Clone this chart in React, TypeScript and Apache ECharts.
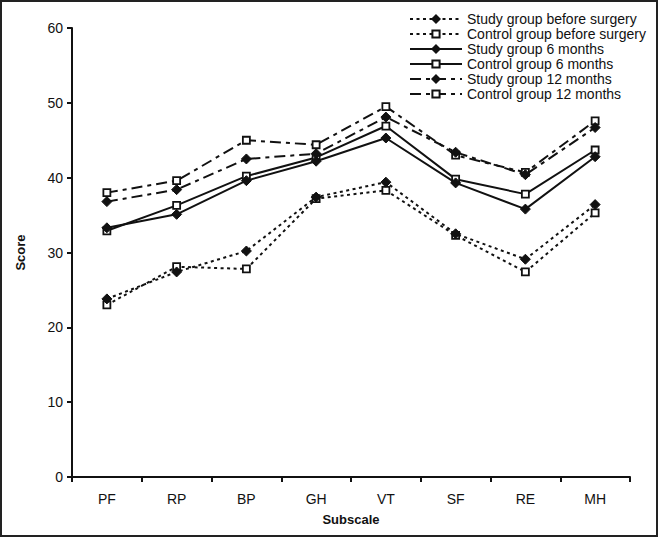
import React, { useEffect, useRef } from "react";
import * as echarts from "echarts";

const categories = ["PF", "RP", "BP", "GH", "VT", "SF", "RE", "MH"];
const yTicks = [0, 10, 20, 30, 40, 50, 60];

const studyBefore = [23.8, 27.4, 30.2, 37.4, 39.4, 32.5, 29.1, 36.4];
const controlBefore = [23.0, 28.1, 27.8, 37.2, 38.3, 32.3, 27.4, 35.3];
const study6 = [33.3, 35.1, 39.6, 42.2, 45.3, 39.3, 35.8, 42.8];
const control6 = [32.9, 36.3, 40.2, 42.7, 46.9, 39.8, 37.8, 43.7];
const study12 = [36.8, 38.4, 42.5, 43.2, 48.1, 43.4, 40.4, 46.7];
const control12 = [38.0, 39.6, 45.0, 44.4, 49.5, 43.0, 40.7, 47.6];

const seriesNames = [
  "Study group before surgery",
  "Control group before surgery",
  "Study group 6 months",
  "Control group 6 months",
  "Study group 12 months",
  "Control group 12 months",
];

export default function App() {
  const ref = useRef<HTMLDivElement>(null);
  useEffect(() => {
    if (!ref.current) return;
    const chart = echarts.init(ref.current, null, { renderer: "svg" });
    const ink = "#111";
    const dotted = [3, 3.5];
    const dashDot = [11, 5, 4, 5];
    const mk = (name: string, data: number[], diamond: boolean, dash: any) => ({
      name,
      type: "line",
      data,
      symbol: diamond ? "diamond" : "rect",
      symbolSize: diamond ? 10 : 7,
      itemStyle: diamond
        ? { color: ink, borderColor: ink, borderWidth: 1 }
        : { color: "#fff", borderColor: ink, borderWidth: 1.8 },
      lineStyle: { color: ink, width: 2, type: dash },
      z: diamond ? 3 : 2,
    });
    chart.setOption({
      animation: false,
      backgroundColor: "#fff",
      textStyle: { fontFamily: "Liberation Sans, Arial, sans-serif" },
      grid: { left: 72, right: 28, top: 28, bottom: 60 },
      legend: {
        orient: "vertical",
        left: 404,
        top: 7,
        itemWidth: 52,
        itemHeight: 9,
        itemGap: 1,
        data: seriesNames,
        textStyle: { fontSize: 14, color: ink, lineHeight: 14 },
      },
      xAxis: {
        type: "category",
        data: categories,
        boundaryGap: true,
        name: "Subscale",
        nameLocation: "middle",
        nameGap: 36,
        nameTextStyle: { fontSize: 13, fontWeight: "bold", color: ink },
        axisLine: { lineStyle: { color: ink, width: 2 } },
        axisTick: { show: true, length: 5, lineStyle: { color: ink, width: 2 } },
        axisLabel: { fontSize: 14, color: ink, margin: 15 },
        splitLine: { show: false },
      },
      yAxis: {
        type: "value",
        min: yTicks[0],
        max: yTicks[yTicks.length - 1],
        interval: 10,
        name: "Score",
        nameLocation: "middle",
        nameGap: 45,
        nameTextStyle: { fontSize: 13, fontWeight: "bold", color: ink },
        axisLine: { show: true, lineStyle: { color: ink, width: 2 } },
        axisTick: { show: true, length: 5, lineStyle: { color: ink, width: 2 } },
        axisLabel: { fontSize: 14, color: ink, margin: 9 },
        splitLine: { show: false },
      },
      graphic: [
        {
          type: "rect",
          shape: { x: 1, y: 1, width: 656, height: 535 },
          style: { fill: "none", stroke: "#222", lineWidth: 2 },
          silent: true,
        },
      ],
      series: [
        mk(seriesNames[0], studyBefore, true, dotted),
        mk(seriesNames[1], controlBefore, false, dotted),
        mk(seriesNames[2], study6, true, "solid"),
        mk(seriesNames[3], control6, false, "solid"),
        mk(seriesNames[4], study12, true, dashDot),
        mk(seriesNames[5], control12, false, dashDot),
      ],
    });
    return () => chart.dispose();
  }, []);
  return (
    <div
      ref={ref}
      style={{ position: "absolute", left: 0, top: 0, width: 658, height: 537 }}
    />
  );
}
